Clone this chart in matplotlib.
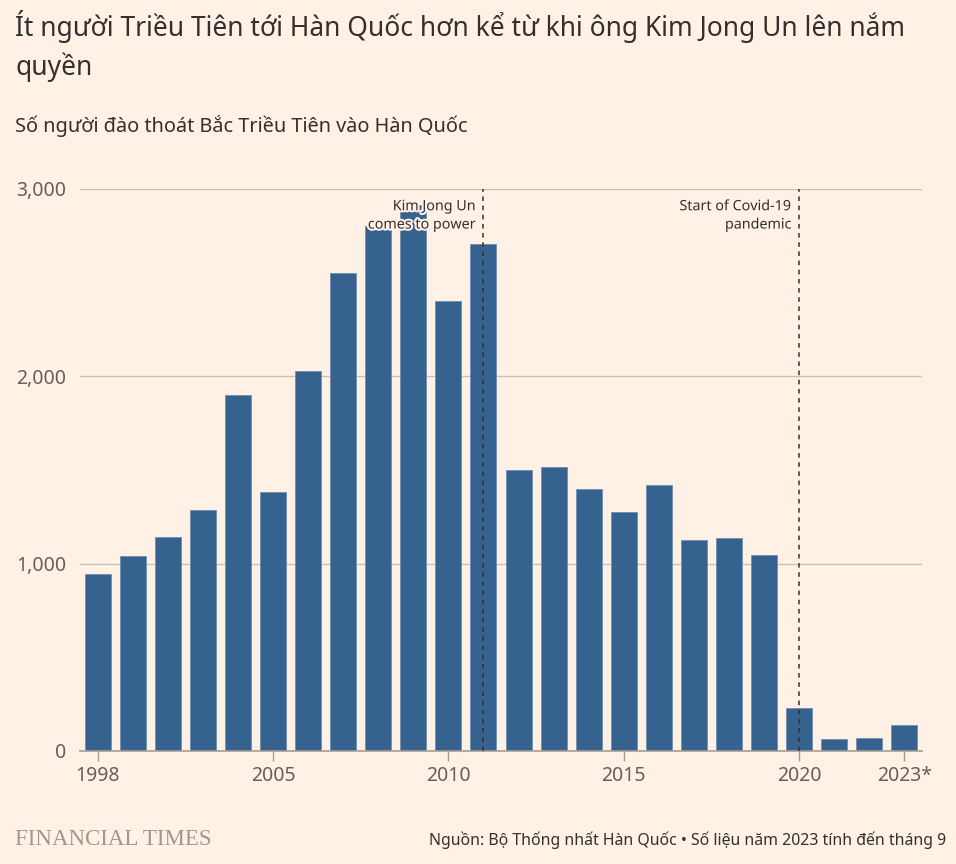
import numpy as np
import matplotlib.pyplot as plt
import matplotlib.patheffects as pe

# Bộ Thống nhất Hàn Quốc - số người đào thoát theo năm
years = ["1998", "1999-2001", "2002", "2003", "2004", "2005", "2006", "2007",
         "2008", "2009", "2010", "2011", "2012", "2013", "2014", "2015",
         "2016", "2017", "2018", "2019", "2020", "2021", "2022", "2023*"]
defectors = [947, 1043, 1142, 1285, 1898, 1384, 2028, 2554, 2803, 2914, 2402,
             2706, 1502, 1514, 1397, 1275, 1418, 1127, 1137, 1047, 229, 63, 67, 139]
tick_labels = ["1998", "2005", "2010", "2015", "2020", "2023*"]
events = [("2011", "Kim Jong Un\ncomes to power"),
          ("2020", "Start of Covid-19\npandemic")]

bg = "#fff1e5"
bar_color = "#35628f"
text_dark = "#33302e"
text_grey = "#66605c"

plt.rcParams["font.family"] = ["Noto Sans", "DejaVu Sans"]

fig = plt.figure(figsize=(9.56, 8.64), dpi=100, facecolor=bg)
ax = fig.add_axes([0.0837, 0.1308, 0.8807, 0.6505], facecolor=bg)

x = np.arange(len(years))
ax.bar(x, defectors, width=0.74, color=bar_color, edgecolor="#6f8fb0",
       linewidth=0.6, zorder=2)

ax.set_xlim(-0.5, len(years) - 0.5)
ax.set_ylim(0, 3000)
ax.set_yticks([0, 1000, 2000, 3000])
ax.set_yticklabels(["0", "1,000", "2,000", "3,000"])
ax.yaxis.grid(True, color="#ccc1b7", linewidth=1, zorder=0)
ax.tick_params(axis="y", length=0, pad=10, labelsize=14, labelcolor=text_grey)

ax.set_xticks([years.index(t) for t in tick_labels])
ax.set_xticklabels(tick_labels)
ax.tick_params(axis="x", length=7, width=1, color="#a69d95", pad=4,
               labelsize=14, labelcolor=text_grey)

for s in ["top", "right", "left"]:
    ax.spines[s].set_visible(False)
ax.spines["bottom"].set_color("#a69d95")
ax.spines["bottom"].set_linewidth(1.2)
ax.spines["bottom"].set_zorder(3)

halo = [pe.withStroke(linewidth=3, foreground=bg)]
for yr, label in events:
    xi = years.index(yr)
    ax.axvline(xi, color="#33302e", linestyle=(0, (3, 3)), linewidth=1.1, zorder=4)
    ax.text(xi - 0.22, 2945, label, ha="right", va="top", fontsize=10.3,
            color=text_dark, linespacing=1.3, path_effects=halo, zorder=5)

fig.text(0.016, 0.988,
         "Ít người Triều Tiên tới Hàn Quốc hơn kể từ khi ông Kim Jong Un lên nắm\nquyền",
         ha="left", va="top", fontsize=19, color=text_dark, linespacing=1.4)
fig.text(0.016, 0.867, "Số người đào thoát Bắc Triều Tiên vào Hàn Quốc",
         ha="left", va="top", fontsize=14.3, color=text_dark)

fig.text(0.016, 0.022, "FINANCIAL TIMES", ha="left", va="baseline",
         fontsize=16.5, color="#a09890", family="Liberation Serif")
fig.text(0.99, 0.022, "Nguồn: Bộ Thống nhất Hàn Quốc • Số liệu năm 2023 tính đến tháng 9",
         ha="right", va="baseline", fontsize=11.4, color=text_dark)

fig.savefig("out.png", dpi=100, facecolor=bg)
